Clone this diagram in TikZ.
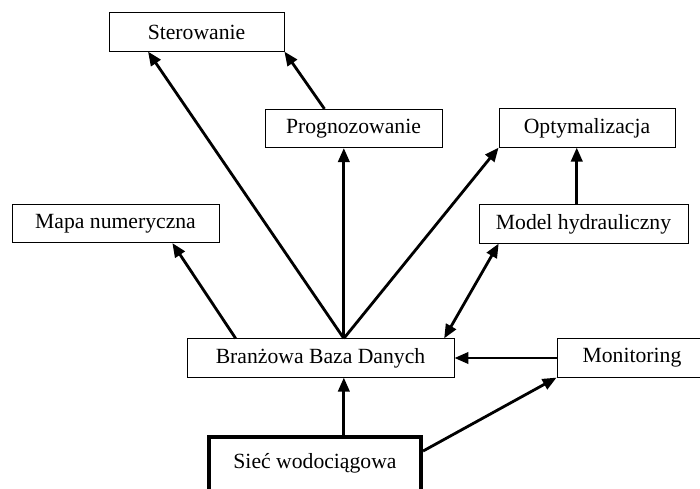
\documentclass[tikz,border=0pt]{standalone}
\usepackage{fontspec}
\setmainfont{Liberation Serif}
\usetikzlibrary{arrows.meta}
\tikzset{
  box/.style={draw, line width=0.7pt, minimum height=1.15cm, inner sep=2pt, font=\fontsize{18.5}{21}\selectfont},
  conn/.style={line width=2.4pt, -{Triangle[length=0.42cm, width=0.34cm]}},
}
\begin{document}
\begin{tikzpicture}[x=0.03cm, y=-0.03cm]
   \useasboundingbox (0,0) rectangle (700,489);
   \node[box, minimum width=5.25cm] (ster) at (196.5,32) {Sterowanie};
   \node[box, minimum width=5.31cm] (prog) at (353.5,128.5) {Prognozowanie};
   \node[box, minimum width=5.28cm] (opt) at (587,128) {Optymalizacja};
   \node[box, minimum width=6.21cm] (mapa) at (115.5,223.5) {Mapa numeryczna};
   \node[box, minimum width=6.27cm] (model) at (583.5,224) {Model hydrauliczny};
   \node[box, minimum width=8.01cm] (baza) at (320.5,358) {Branżowa Baza Danych};
   \node[box, minimum width=4.5cm] (mon) at (632,358) {Monitoring};
   \node[box, line width=3.5pt, minimum width=6.36cm, minimum height=2.34cm, text depth=0.9cm] (siec) at (315,476) {Sieć wodociągowa};
   \coordinate (hub) at (baza.40);
   \draw[conn] (hub) -- (ster.202);
   \draw[conn] (hub) -- (hub |- prog.south);
   \draw[conn] (hub) -- (opt.south west);
   \draw[conn] (baza.167) -- (mapa.-19);
   \draw[conn] (prog.146) -- (ster.south east);
   \draw[conn] (model.109) -- (model.109 |- opt.south);
   \draw[conn, {Triangle[length=0.42cm, width=0.34cm]}-{Triangle[length=0.42cm, width=0.34cm]}] (baza.9) -- (model.193);
   \draw[conn] (mon.west) -- (baza.east);
   \draw[conn] (siec.north -| hub) -- (baza.south -| hub);
   \draw[conn] (siec.13) -- (mon.south west);
\end{tikzpicture}
\end{document}
